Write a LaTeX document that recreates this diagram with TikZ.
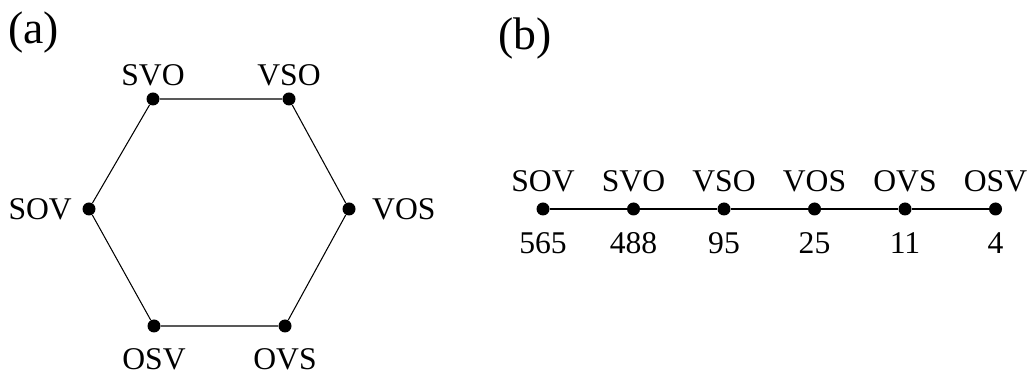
\documentclass[tikz,border=0pt]{standalone}
\usepackage{fontspec}
\setmainfont{Liberation Serif}
\begin{document}
\begin{tikzpicture}[
    x=0.02cm, y=-0.02cm,
    dot/.style={circle, fill=black, inner sep=0pt, minimum size=0.26cm},
    lbl/.style={font=\fontsize{18}{21}\selectfont, inner sep=0pt},
    tag/.style={font=\fontsize{26}{30}\selectfont, inner sep=0pt, anchor=west},
    edge/.style={draw, line width=0.6pt}
]
    \useasboundingbox (0,0) rectangle (1027,377);

    % Panel (a): word orders on a hexagon
    \node[tag] (taga) at (8,33) {(a)};
    \node[dot, label={[lbl, label distance=0.11cm]above:SVO}] (hsvo) at (153,99) {};
    \node[dot, label={[lbl, label distance=0.11cm]above:VSO}] (hvso) at (289,99) {};
    \node[dot, label={[lbl, label distance=0.2cm]left:SOV}] (hsov) at (89,209) {};
    \node[dot, label={[lbl, label distance=0.32cm]right:VOS}] (hvos) at (349,209) {};
    \node[dot, label={[lbl, label distance=0.3cm]below:OSV}] (hosv) at (154,326) {};
    \node[dot, label={[lbl, label distance=0.3cm]below:OVS}] (hovs) at (285,326) {};

    \draw[edge] (hsvo) -- (hvso) -- (hvos) -- (hovs) -- (hosv) -- (hsov) -- (hsvo);

    % Panel (b): word orders on a line with counts
    \node[tag] (tagb) at (498,39) {(b)};
    \foreach \x/\word/\num [count=\i] in {543/SOV/565, 633.5/SVO/488, 724/VSO/95,
                                          814.5/VOS/25, 905/OVS/11, 995.5/OSV/4}
        \node[dot, label={[lbl, label distance=0.2cm]above:\word},
              label={[lbl, label distance=0.33cm]below:\num}] (l\i) at (\x,209) {};

    \foreach \i [evaluate=\i as \j using int(\i+1)] in {1,...,5}
        \draw[edge] (l\i) -- (l\j);

\end{tikzpicture}
\end{document}
